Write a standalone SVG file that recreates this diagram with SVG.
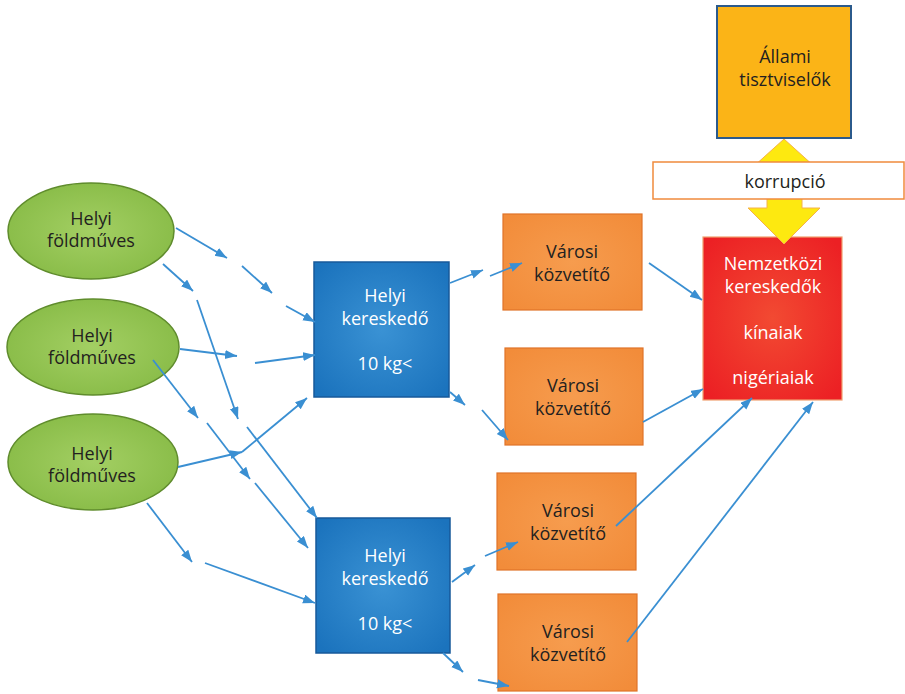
<svg xmlns="http://www.w3.org/2000/svg" width="905" height="694" viewBox="0 0 905 694">
<defs>
<radialGradient id="gGreen" cx="50%" cy="50%" r="60%">
<stop offset="0" stop-color="#a3cf63"/>
<stop offset="1" stop-color="#86ba45"/>
</radialGradient>
<radialGradient id="gBlue" cx="50%" cy="50%" r="65%">
<stop offset="0" stop-color="#3a92d4"/>
<stop offset="1" stop-color="#1b73bd"/>
</radialGradient>
<radialGradient id="gOrange" cx="50%" cy="50%" r="65%">
<stop offset="0" stop-color="#f69c4e"/>
<stop offset="1" stop-color="#f28c3a"/>
</radialGradient>
<radialGradient id="gRed" cx="50%" cy="50%" r="65%">
<stop offset="0" stop-color="#f24a32"/>
<stop offset="1" stop-color="#ec2024"/>
</radialGradient>
<marker id="ah" markerUnits="userSpaceOnUse" markerWidth="14" markerHeight="10" refX="12" refY="4.5" orient="auto">
<path d="M0,0 L12,4.5 L0,9 z" fill="#3a8fd2"/>
</marker>
<style>
.t{font-family:"Open Sans","Liberation Sans",sans-serif;font-size:18px;text-anchor:middle;fill:#231f20}
.w{fill:#ffffff}
.ell{fill:url(#gGreen);stroke:#5f8c2c;stroke-width:1.5}
.blue{fill:url(#gBlue);stroke:#17599a;stroke-width:1.5}
.org{fill:url(#gOrange);stroke:#e07328;stroke-width:1.2}
.c line,.c polyline{stroke:#3a8fd2;stroke-width:1.8;fill:none;marker-end:url(#ah)}
</style>
</defs>
<rect width="905" height="694" fill="#ffffff"/>

<g id="farmer1"><ellipse class="ell" cx="91" cy="231" rx="83" ry="48"/><text class="t" x="91" y="225">Helyi</text><text class="t" x="91" y="247">földműves</text></g>
<g id="farmer2"><ellipse class="ell" cx="93" cy="347" rx="86" ry="48"/><text class="t" x="92" y="342">Helyi</text><text class="t" x="92" y="364">földműves</text></g>
<g id="farmer3"><ellipse class="ell" cx="93" cy="462" rx="85" ry="48"/><text class="t" x="92" y="460">Helyi</text><text class="t" x="92" y="482">földműves</text></g>

<g id="trader1"><rect class="blue" x="314" y="262" width="135" height="135"/><text class="t w" x="385" y="302">Helyi</text><text class="t w" x="385" y="325">kereskedő</text><text class="t w" x="385" y="370">10 kg&lt;</text></g>
<g id="trader2"><rect class="blue" x="316" y="518" width="134" height="135"/><text class="t w" x="385" y="562">Helyi</text><text class="t w" x="385" y="585">kereskedő</text><text class="t w" x="385" y="630">10 kg&lt;</text></g>

<g id="broker1"><rect class="org" x="503" y="214" width="139" height="96"/><text class="t" x="572" y="258">Városi</text><text class="t" x="572" y="281">közvetítő</text></g>
<g id="broker2"><rect class="org" x="505" y="348" width="138" height="97"/><text class="t" x="573" y="392">Városi</text><text class="t" x="573" y="415">közvetítő</text></g>
<g id="broker3"><rect class="org" x="497" y="473" width="139" height="97"/><text class="t" x="568" y="517">Városi</text><text class="t" x="568" y="540">közvetítő</text></g>
<g id="broker4"><rect class="org" x="498" y="594" width="139" height="97"/><text class="t" x="568" y="638">Városi</text><text class="t" x="568" y="661">közvetítő</text></g>

<g id="international"><rect x="703" y="237" width="139" height="163" fill="url(#gRed)" stroke="#f0a070" stroke-width="1.2"/><text class="t w" x="773" y="270">Nemzetközi</text><text class="t w" x="773" y="293">kereskedők</text><text class="t w" x="773" y="339">kínaiak</text><text class="t w" x="773" y="384">nigériaiak</text></g>

<g id="corruption-arrow"><polygon points="784,139 815,167 802,167 802,208 820,208 784,244 748,208 767,208 767,167 753,167" fill="#fde910" stroke="#f5b24a" stroke-width="1"/></g>

<g id="officials"><rect x="717" y="6" width="134" height="132" fill="#fbb417" stroke="#2b5a8c" stroke-width="2"/><text class="t" x="785" y="63">Állami</text><text class="t" x="785" y="86">tisztviselők</text></g>

<g id="korrupcio"><rect x="653" y="162" width="251" height="37" fill="#ffffff" stroke="#f08a3c" stroke-width="1.5"/><text class="t" x="785" y="188">korrupció</text></g>

<g id="connectors" class="c">
<line x1="176" y1="228" x2="227" y2="258"/>
<line x1="242" y1="266" x2="272" y2="293"/>
<line x1="286" y1="306" x2="315" y2="322"/>
<line x1="163" y1="264" x2="193" y2="291"/>
<line x1="197" y1="300" x2="238" y2="419"/>
<line x1="247" y1="427" x2="317" y2="518"/>
<line x1="180" y1="349" x2="237" y2="356"/>
<line x1="255" y1="363" x2="315" y2="355"/>
<line x1="153" y1="360" x2="198" y2="418"/>
<line x1="207" y1="423" x2="250" y2="479"/>
<line x1="255" y1="483" x2="308" y2="548"/>
<line x1="178" y1="467" x2="242" y2="452"/>
<line x1="242" y1="452" x2="307" y2="398"/>
<line x1="147" y1="503" x2="192" y2="562"/>
<line x1="205" y1="563" x2="315" y2="603"/>
<line x1="450" y1="283" x2="483" y2="270"/>
<line x1="490" y1="276" x2="522" y2="263"/>
<line x1="450" y1="392" x2="465" y2="405"/>
<line x1="482" y1="410" x2="508" y2="440"/>
<line x1="452" y1="582" x2="475" y2="565"/>
<line x1="485" y1="556" x2="518" y2="542"/>
<line x1="443" y1="653" x2="463" y2="672"/>
<line x1="478" y1="680" x2="509" y2="686"/>
<line x1="649" y1="263" x2="702" y2="300"/>
<line x1="643" y1="422" x2="703" y2="389"/>
<line x1="616" y1="526" x2="752" y2="398"/>
<line x1="627" y1="642" x2="813" y2="402"/>
</g>
</svg>
